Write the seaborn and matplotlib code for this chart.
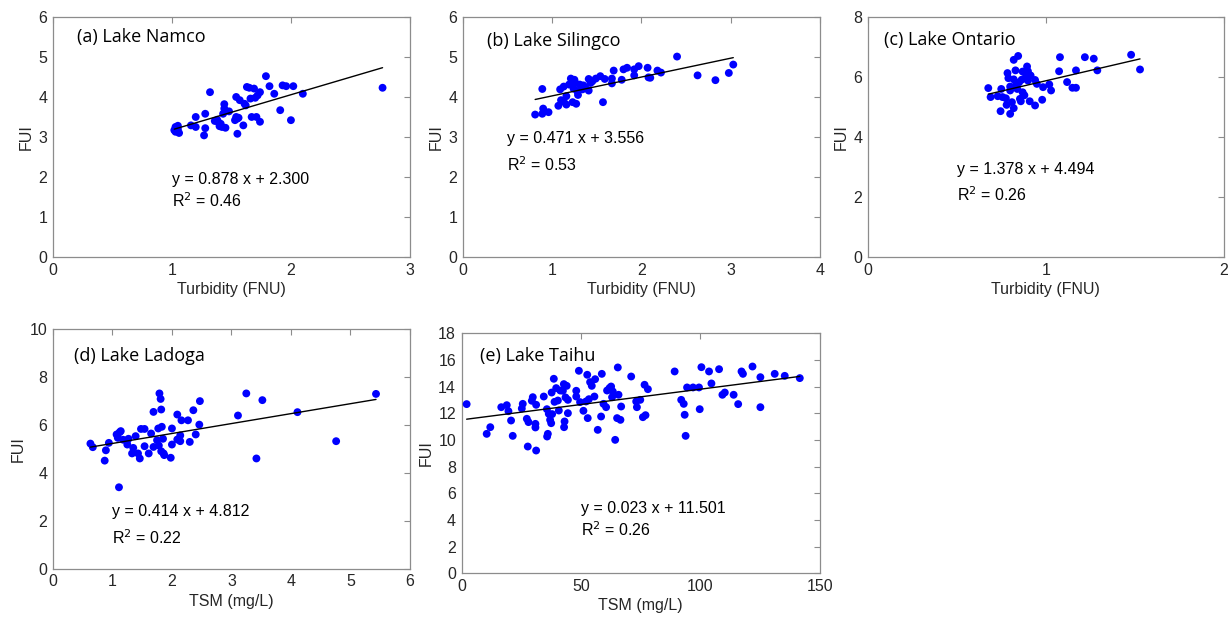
import numpy as np
import pandas as pd
import matplotlib
matplotlib.use("Agg")
import matplotlib.pyplot as plt
import seaborn as sns

sns.set_theme(style="white")
plt.rcParams['font.family'] = ['Liberation Sans', 'DejaVu Sans']

# ---------------- data ----------------
namco_x = [1.03, 1.02, 1.05, 1.06, 1.03, 1.05, 1.16, 1.20, 1.20, 1.27, 1.28, 1.28, 1.32, 1.36,
           1.38, 1.39, 1.40, 1.41, 1.42, 1.43, 1.44, 1.44, 1.45, 1.48, 1.53, 1.54, 1.54, 1.55,
           1.56, 1.55, 1.57, 1.60, 1.61, 1.62, 1.63, 1.65, 1.66, 1.67, 1.69, 1.70, 1.71, 1.72,
           1.74, 1.74, 1.79, 1.82, 1.86, 1.91, 1.93, 1.96, 2.00, 2.02, 2.10, 2.77]
namco_y = [3.25, 3.17, 3.20, 3.10, 3.13, 3.28, 3.29, 3.50, 3.25, 3.04, 3.22, 3.58, 4.12, 3.40,
           3.43, 3.37, 3.27, 3.33, 3.25, 3.58, 3.71, 3.82, 3.23, 3.64, 3.42, 3.50, 4.00, 3.46,
           3.48, 3.08, 3.92, 3.29, 3.83, 3.79, 4.25, 4.23, 3.96, 3.50, 4.21, 3.98, 3.50, 4.04,
           3.38, 4.12, 4.52, 4.27, 4.08, 3.67, 4.29, 4.27, 3.42, 4.27, 4.08, 4.23]

silingco_x = [0.81, 0.89, 0.90, 0.89, 0.96, 1.07, 1.09, 1.10, 1.13, 1.13, 1.16, 1.16, 1.19, 1.21,
              1.23, 1.24, 1.25, 1.26, 1.27, 1.28, 1.29, 1.31, 1.34, 1.35, 1.37, 1.41, 1.41, 1.43,
              1.45, 1.49, 1.54, 1.57, 1.59, 1.67, 1.67, 1.69, 1.78, 1.80, 1.84, 1.92, 1.92, 1.97,
              2.07, 2.08, 2.10, 2.18, 2.22, 2.40, 2.63, 2.83, 2.98, 3.03]
silingco_y = [3.56, 3.58, 3.71, 4.20, 3.62, 3.78, 4.19, 3.92, 4.26, 3.88, 4.02, 3.81, 4.31, 4.46,
              3.87, 4.21, 4.43, 4.35, 3.83, 4.15, 4.05, 4.31, 4.19, 4.29, 4.24, 4.16, 4.45, 4.35,
              4.39, 4.46, 4.52, 3.87, 4.45, 4.46, 4.34, 4.66, 4.43, 4.69, 4.73, 4.54, 4.69, 4.77,
              4.73, 4.49, 4.48, 4.66, 4.61, 5.01, 4.54, 4.42, 4.60, 4.81]

ontario_x = [0.677, 0.69, 0.73, 0.75, 0.746, 0.757, 0.776, 0.78, 0.785, 0.79, 0.80, 0.80, 0.80,
             0.81, 0.82, 0.82, 0.82, 0.83, 0.83, 0.835, 0.84, 0.845, 0.85, 0.855, 0.86, 0.865,
             0.87, 0.87, 0.88, 0.89, 0.895, 0.90, 0.90, 0.91, 0.915, 0.94, 0.94, 0.95, 0.98,
             0.985, 1.02, 1.03, 1.075, 1.08, 1.12, 1.15, 1.17, 1.17, 1.22, 1.27, 1.29, 1.48, 1.53]
ontario_y = [5.63, 5.33, 5.36, 5.60, 4.86, 5.33, 5.29, 5.07, 6.13, 5.96, 5.68, 5.55, 4.77,
             5.16, 6.57, 5.92, 4.96, 6.22, 5.68, 5.77, 5.60, 6.70, 5.82, 5.27, 5.19, 5.91,
             5.49, 6.18, 5.39, 6.05, 6.35, 6.19, 5.88, 5.19, 6.05, 5.05, 5.90, 5.77, 5.24,
             5.66, 5.75, 5.55, 6.19, 6.66, 5.83, 5.64, 6.22, 5.64, 6.66, 6.61, 6.22, 6.74, 6.25]

ladoga_x = [0.63, 0.67, 0.87, 0.89, 0.94, 1.07, 1.09, 1.11, 1.12, 1.14, 1.18, 1.25, 1.25, 1.27,
            1.33, 1.35, 1.39, 1.43, 1.46, 1.48, 1.54, 1.54, 1.61, 1.65, 1.69, 1.69, 1.75, 1.77,
            1.78, 1.79, 1.81, 1.82, 1.82, 1.83, 1.85, 1.86, 1.87, 1.98, 2.00, 2.00, 2.09, 2.09,
            2.14, 2.14, 2.16, 2.27, 2.30, 2.36, 2.40, 2.46, 2.47, 3.11, 3.25, 3.42, 3.52, 4.11,
            4.76, 5.43]
ladoga_y = [5.22, 5.07, 4.51, 4.94, 5.25, 5.60, 5.46, 3.40, 5.69, 5.74, 5.38, 5.36, 5.18, 5.42,
            4.81, 5.04, 5.53, 4.81, 4.60, 5.83, 5.83, 5.11, 4.81, 5.64, 6.54, 5.08, 5.36, 5.85,
            5.14, 7.31, 7.08, 6.64, 4.90, 5.92, 5.42, 4.81, 4.74, 4.63, 5.18, 5.85, 6.43, 5.39,
            5.32, 5.56, 6.19, 6.19, 5.29, 6.61, 5.60, 6.01, 6.99, 6.39, 7.31, 4.60, 7.03, 6.53,
            5.32, 7.29]

taihu_x = [2.1, 10.5, 12.0, 16.6, 18.9, 19.6, 20.7, 21.4, 25.2, 25.6, 27.3, 27.7, 28.0, 29.4,
           29.8, 30.9, 30.9, 31.2, 31.2, 34.4, 35.7, 35.8, 36.1, 36.5, 37.05, 37.5, 37.7, 37.9,
           38.6, 38.9, 39.6, 40.3, 40.7, 41.3, 42.4, 42.8, 43.1, 42.9, 43.5, 44.0, 44.5, 44.5,
           48.0, 48.0, 49.1, 49.6, 51.0, 52.1, 52.6, 52.8, 53.3, 53.8, 54.5, 55.6, 55.9, 58.4,
           58.7, 57.0, 59.4, 60.5, 60.9, 61.9, 62.6, 63.0, 63.3, 64.3, 65.1, 65.4, 65.7, 66.5,
           66.8, 71.0, 73.1, 73.4, 74.8, 75.9, 76.6, 77.0, 78.0, 89.2, 91.95, 93.0, 93.4, 93.8,
           94.4, 96.9, 99.4, 99.7, 100.4, 103.6, 104.6, 107.8, 109.2, 110.2, 113.9, 115.8,
           117.2, 117.8, 121.8, 125.1, 125.1, 131.1, 135.3, 141.6]
taihu_y = [12.68, 10.45, 10.95, 12.45, 12.60, 12.15, 11.45, 10.30, 12.35, 12.70, 11.58, 9.50,
           11.33, 12.93, 13.20, 11.20, 10.93, 12.63, 9.20, 13.25, 12.30, 10.25, 10.45, 11.95,
           11.50, 11.25, 13.55, 11.93, 14.58, 12.85, 13.88, 12.95, 12.20, 13.70, 13.68, 14.18,
           11.38, 10.95, 13.18, 14.05, 13.00, 12.00, 13.68, 13.25, 15.18, 12.83, 12.18, 12.88,
           14.88, 11.63, 13.05, 14.33, 14.05, 13.25, 14.55, 11.75, 14.95, 10.75, 12.70, 12.45,
           13.70, 13.88, 14.00, 13.20, 13.63, 10.00, 11.63, 15.43, 13.38, 11.50, 12.50, 14.75,
           12.88, 12.45, 13.00, 11.70, 14.13, 11.85, 13.80, 15.13, 13.00, 12.70, 11.88, 10.30,
           13.93, 13.93, 13.93, 12.30, 15.45, 15.13, 14.23, 15.30, 13.38, 13.55, 13.38, 12.68,
           15.13, 14.95, 15.50, 14.70, 12.45, 14.95, 14.80, 14.63]

titles = ["(a) Lake Namco", "(b) Lake Silingco", "(c) Lake Ontario", "(d) Lake Ladoga", "(e) Lake Taihu"]
xlabels = ["Turbidity (FNU)", "Turbidity (FNU)", "Turbidity (FNU)", "TSM (mg/L)", "TSM (mg/L)"]
slopes = [0.878, 0.471, 1.378, 0.414, 0.023]
intercepts = [2.300, 3.556, 4.494, 4.812, 11.501]
r2 = [0.46, 0.53, 0.26, 0.22, 0.26]
xlims = [(0, 3), (0, 4), (0, 2), (0, 6), (0, 150)]
ylims = [(0, 6), (0, 6), (0, 8), (0, 10), (0, 18)]
xticks = [[0, 1, 2, 3], [0, 1, 2, 3, 4], [0, 1, 2], [0, 1, 2, 3, 4, 5, 6], [0, 50, 100, 150]]
yticks = [[0, 1, 2, 3, 4, 5, 6], [0, 1, 2, 3, 4, 5, 6], [0, 2, 4, 6, 8], [0, 2, 4, 6, 8, 10],
          [0, 2, 4, 6, 8, 10, 12, 14, 16, 18]]
# text anchors (title in axes fraction, equation in data coordinates)
title_pos = [(0.068, 0.915), (0.068, 0.90), (0.044, 0.905), (0.06, 0.889), (0.051, 0.906)]
eq_pos = [(1.0, 1.94, 1.42), (0.497, 2.96, 2.31), (0.503, 2.93, 2.09), (1.0, 2.40, 1.32),
          (50, 4.88, 3.25)]

series = [(namco_x, namco_y), (silingco_x, silingco_y), (ontario_x, ontario_y),
          (ladoga_x, ladoga_y), (taihu_x, taihu_y)]

# axes rectangles [left, bottom, width, height] in figure fraction
rects = [[0.043, 0.5835, 0.290, 0.389],
         [0.376, 0.5835, 0.290, 0.389],
         [0.705, 0.5835, 0.289, 0.389],
         [0.043, 0.078, 0.290, 0.389],
         [0.375, 0.071, 0.291, 0.389]]

fig = plt.figure(figsize=(12.31, 6.17), dpi=100)
fig.patch.set_facecolor("white")

spine_col = "#8c8c8c"
txt_col = "#262626"

for i in range(5):
    ax = fig.add_axes(rects[i])
    xs, ys = series[i]
    df = pd.DataFrame({"x": xs, "y": ys})
    sns.scatterplot(data=df, x="x", y="y", ax=ax, color="#0000FF", s=32,
                    edgecolor="none", linewidth=0, zorder=3)
    xl = np.array([min(xs), max(xs)])
    line_df = pd.DataFrame({"x": xl, "y": slopes[i] * xl + intercepts[i]})
    sns.lineplot(data=line_df, x="x", y="y", ax=ax, color="black", linewidth=1.0, zorder=4)

    ax.set_xlim(*xlims[i])
    ax.set_ylim(*ylims[i])
    ax.set_xticks(xticks[i])
    ax.set_yticks(yticks[i])
    ax.tick_params(direction="in", length=4, width=0.8, color=spine_col,
                   top=True, right=True, labelsize=11.5, labelcolor=txt_col, pad=4)
    for sp in ax.spines.values():
        sp.set_color(spine_col)
        sp.set_linewidth(0.9)
    ax.set_xlabel(xlabels[i], fontsize=11.5, color=txt_col, labelpad=3)
    ax.set_ylabel("FUI", fontsize=11.5, color=txt_col, labelpad=3)
    ax.text(title_pos[i][0], title_pos[i][1], titles[i], transform=ax.transAxes,
            fontsize=13, color="black", va="center", ha="left",
            family=["Open Sans", "DejaVu Sans"])
    ex, ey1, ey2 = eq_pos[i]
    ax.text(ex, ey1, "y = %.3f x + %.3f" % (slopes[i], intercepts[i]), fontsize=11.5,
            color="black", va="center", ha="left")
    ax.text(ex, ey2, "R$^2$ = %.2f" % r2[i], fontsize=11.5,
            color="black", va="center", ha="left")
    ax.grid(False)

fig.savefig("out.png", dpi=100, facecolor="white")
